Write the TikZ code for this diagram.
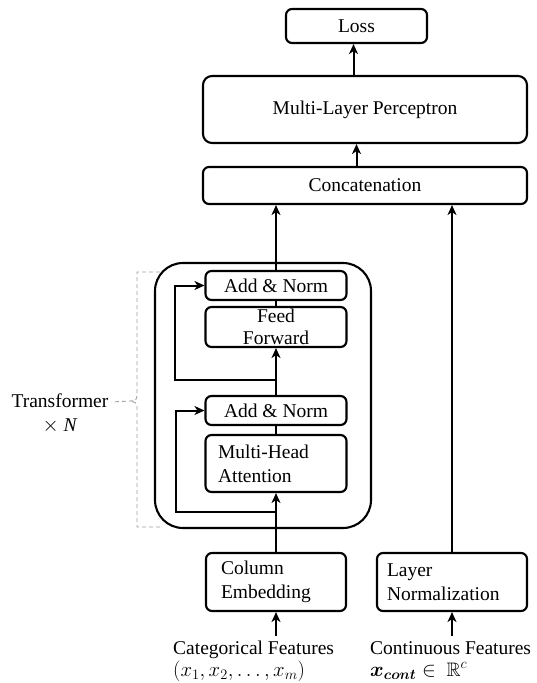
\documentclass[tikz,border=0pt]{standalone}
\usepackage{amsmath,amssymb}
\usepackage{fontspec}
\setmainfont{Liberation Serif}
\usetikzlibrary{arrows.meta}
\begin{document}
\begin{tikzpicture}[x=1pt,y=-1pt,
  every node/.style={font=\fontsize{19.5}{24}\selectfont, inner sep=0pt},
  box/.style={draw, line width=2.1pt, rounded corners=6pt},
  arr/.style={line width=2pt, -{Stealth[length=10pt,width=9pt,inset=3pt]}},
  ln/.style={line width=2pt},
  brace/.style={draw=gray!75, dashed, line width=0.9pt, dash pattern=on 4pt off 3pt}]
\useasboundingbox (0,0) rectangle (537,683);

% top
\node[box, minimum width=141pt, minimum height=34pt] (loss) at (356.5,26) {Loss};
\node[box, minimum width=324pt, minimum height=67pt, rounded corners=9pt] (mlp) at (365,109.5) {Multi-Layer Perceptron};
\node[box, minimum width=324pt, minimum height=37pt] (concat) at (365,185.5) {Concatenation};

% transformer block
\node[draw, line width=2.1pt, rounded corners=28pt, minimum width=216pt, minimum height=265pt] (tbox) at (263,395.5) {};
\node[box, minimum width=141pt, minimum height=29pt] (an2) at (276,285.5) {Add \& Norm};
\node[box, minimum width=141pt, minimum height=40pt, text width=141pt, align=center,
      font=\fontsize{19.5}{22}\selectfont] (ff) at (276,327) {Feed\\Forward};
\node[box, minimum width=141pt, minimum height=29pt] (an1) at (276,410.5) {Add \& Norm};
\node[box, minimum width=141pt, minimum height=57pt, text width=116pt, align=left] (mha) at (276,463.5) {Multi-Head\\Attention};

% bottom boxes
\node[box, minimum width=140pt, minimum height=58pt, text width=110pt, align=left] (col) at (276,582) {Column\\Embedding};
\node[box, minimum width=150pt, minimum height=58pt, text width=130pt, align=left] (lnorm) at (452,582) {Layer\\Normalization};

% feature labels
\node[anchor=base west, align=left, font=\fontsize{19.5}{22}\selectfont] (cat) at (173,676) {Categorical Features\\$(x_1, x_2, \dots, x_m)$};
\node[anchor=base west, align=left, font=\fontsize{19.5}{22}\selectfont] (cont) at (370,676) {Continuous Features\\$\boldsymbol{x}_{\boldsymbol{cont}}\in\ \mathbb{R}^{c}$};
\coordinate (catTop) at (0,636);

% transformer label
\node[align=center] (tlabel) at (60,413) {Transformer\\$\times$ \textit{N}};

% connectors
\draw[arr] ([xshift=-3pt]loss.south |- mlp.north) -- ([xshift=-3pt]loss.south);
\draw[arr] (loss.south |- concat.north) -- (loss.south |- mlp.south);
\draw[arr] (an2.north) -- (an2.north |- concat.south);
\draw[arr] (lnorm.north) -- (lnorm.north |- concat.south);
\draw[arr] (col.north) -- (mha.south);
\draw[ln] (mha.north) -- (an1.south);
\draw[arr] (an1.north) -- (ff.south);
\draw[ln] (ff.north) -- (an2.south);
\coordinate (r1) at (176,512);
\coordinate (r2) at (175,380);
\draw[arr] (r1 -| mha.south) -- (r1) |- (an1.west);
\draw[arr] (r2 -| an1.north) -- (r2) |- (an2.west);
\draw[arr] (col.south |- catTop) -- (col.south);
\draw[arr] (lnorm.south |- catTop) -- (lnorm.south);

% dashed brace
\coordinate (bt) at (160,272);
\coordinate (bb) at (160,527);
\draw[brace] (bt) -- (137,272) -- (137,396) .. controls (137,400) and (134,401) .. (130,401) -- ([xshift=3pt]tlabel.east |- 0,402);
\draw[brace] (bb) -- (137,527) -- (137,406) .. controls (137,403) and (135,402) .. (130,401);
\end{tikzpicture}
\end{document}
